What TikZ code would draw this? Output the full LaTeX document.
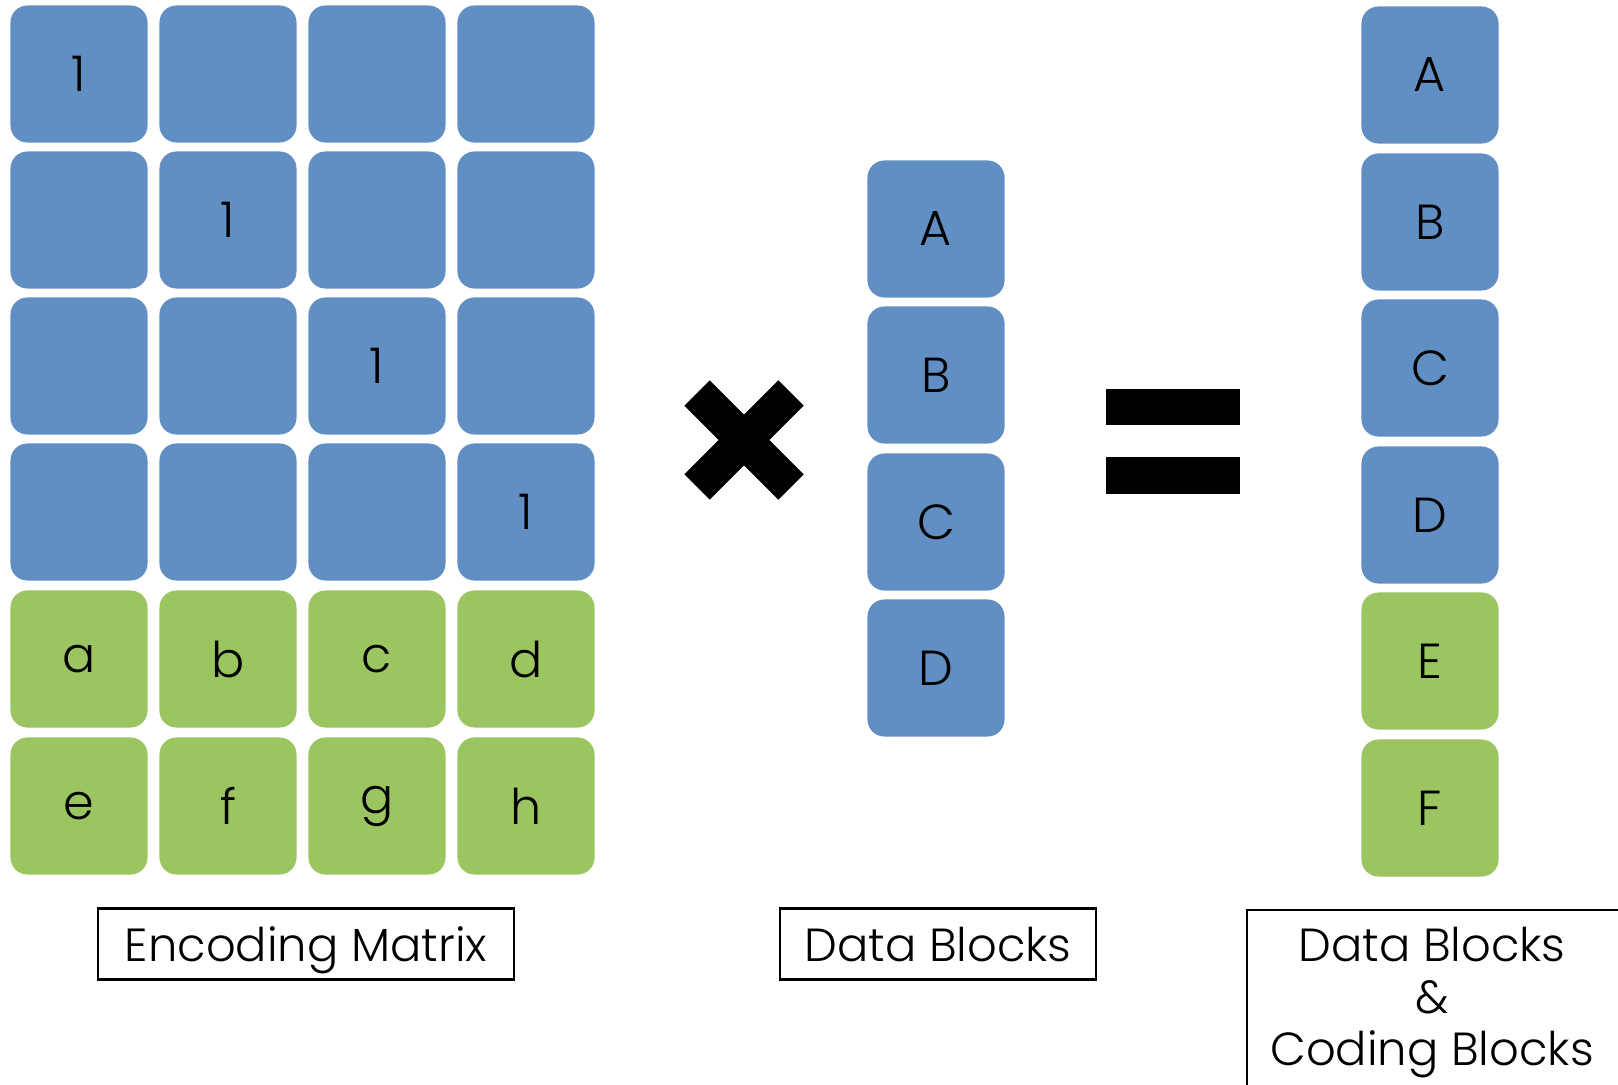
\documentclass[tikz,border=0pt]{standalone}
\usepackage{fontspec}
\setmainfont{Poppins}[UprightFont={* Light}]
\definecolor{blockblue}{RGB}{97,143,195}
\definecolor{blockgreen}{RGB}{155,197,96}

\begin{document}
\begin{tikzpicture}[x=0.01cm, y=0.01cm]
                    \tikzstyle{every node}+=[font=\fontsize{14}{15}\selectfont]
                    \tikzstyle{cell}=[rounded corners=0.17cm, minimum width=1.37cm, minimum height=1.37cm, inner sep=0pt]
                    \tikzstyle{datacell}=[cell, fill=blockblue]
                    \tikzstyle{codecell}=[cell, fill=blockgreen]
                    \tikzstyle{caption}=[draw=black, line width=0.6pt, minimum height=0.71cm, inner sep=0pt,
                                         text depth=0pt, font=\fontsize{13.2}{14}\selectfont]
                    \useasboundingbox (0,0) rectangle (1618,-1085);
                    % encoding matrix, identity part
                    \node [datacell] (m11) at (79,-74) {1};
                    \node [datacell] (m12) at (228,-74) {};
                    \node [datacell] (m13) at (377,-74) {};
                    \node [datacell] (m14) at (526,-74) {};
                    \node [datacell] (m21) at (79,-220) {};
                    \node [datacell] (m22) at (228,-220) {1};
                    \node [datacell] (m23) at (377,-220) {};
                    \node [datacell] (m24) at (526,-220) {};
                    \node [datacell] (m31) at (79,-366) {};
                    \node [datacell] (m32) at (228,-366) {};
                    \node [datacell] (m33) at (377,-366) {1};
                    \node [datacell] (m34) at (526,-366) {};
                    \node [datacell] (m41) at (79,-512) {};
                    \node [datacell] (m42) at (228,-512) {};
                    \node [datacell] (m43) at (377,-512) {};
                    \node [datacell] (m44) at (526,-512) {1};
                    % encoding matrix, coding rows
                    \node [codecell] (m51) at (79,-659) {a};
                    \node [codecell] (m52) at (228,-659) {b};
                    \node [codecell] (m53) at (377,-659) {c};
                    \node [codecell] (m54) at (526,-659) {d};
                    \node [codecell] (m61) at (79,-806) {e};
                    \node [codecell] (m62) at (228,-806) {f};
                    \node [codecell] (m63) at (377,-806) {g};
                    \node [codecell] (m64) at (526,-806) {h};
                    % times sign
                    \draw [black, line width=0.36cm] (697,-393) -- (791,-487);
                    \draw [black, line width=0.36cm] (697,-487) -- (791,-393);
                    % data vector
                    \node [datacell] (dA) at (936,-229) {A};
                    \node [datacell] (dB) at (936,-375) {B};
                    \node [datacell] (dC) at (936,-522) {C};
                    \node [datacell] (dD) at (936,-668) {D};
                    % equals sign
                    \fill [black] (1106,-389) rectangle (1240,-425);
                    \fill [black] (1106,-457) rectangle (1240,-494);
                    % result vector
                    \node [datacell] (rA) at (1430,-75) {A};
                    \node [datacell] (rB) at (1430,-222) {B};
                    \node [datacell] (rC) at (1430,-368) {C};
                    \node [datacell] (rD) at (1430,-515) {D};
                    \node [codecell] (rE) at (1430,-661) {E};
                    \node [codecell] (rF) at (1430,-808) {F};
                    % captions
                    \node [caption, minimum width=4.15cm] (matrixlabel) at (306,-944) {Encoding Matrix};
                    \node [caption, minimum width=3.15cm] (datalabel) at (938,-944) {Data Blocks};
                    \node [anchor=north, align=center, inner sep=0pt, font=\fontsize{13.2}{14.8}\selectfont]
                          (resultlabel) at (1432,-926) {Data Blocks\\\&\\Coding Blocks};
                    % open frame round the last caption, running off the page
                    \draw [black, line width=0.6pt] (1247,-1100) |- (1640,-910);
\end{tikzpicture}
\end{document}
